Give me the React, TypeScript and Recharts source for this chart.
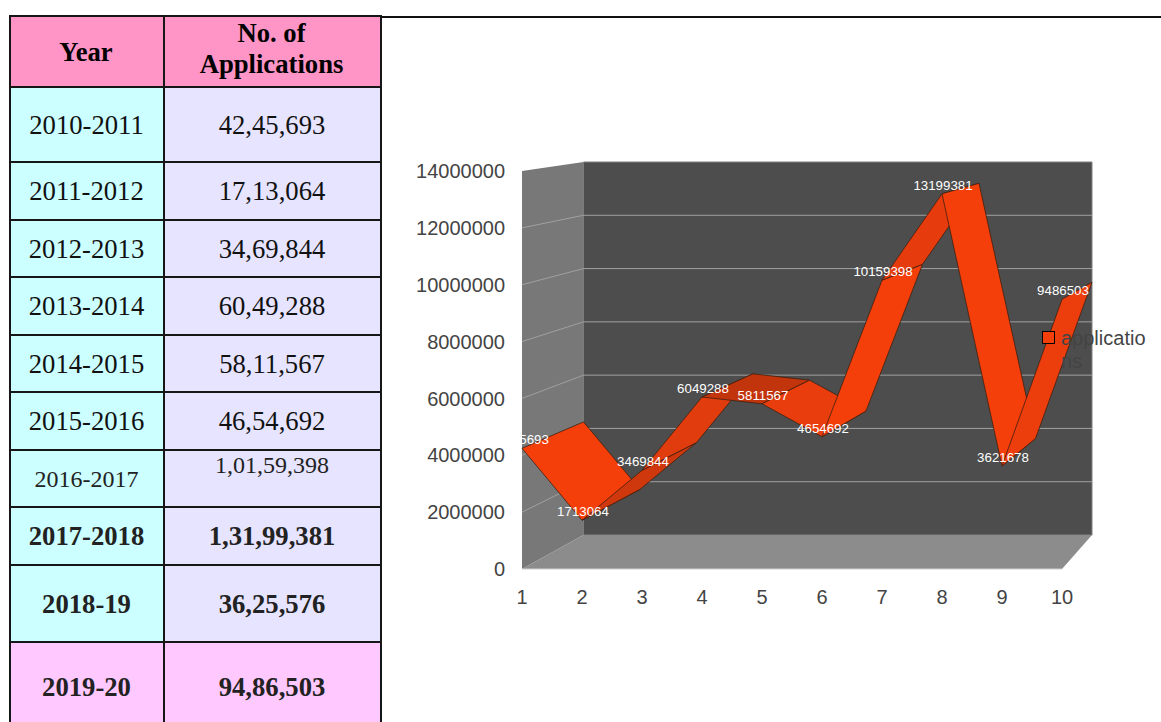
import {
  LineChart,
  Line,
  XAxis,
  YAxis,
  Legend,
  LabelList,
  useXAxisScale,
  useYAxisScale,
} from "recharts";

const tableYears = [
  "2010-2011",
  "2011-2012",
  "2012-2013",
  "2013-2014",
  "2014-2015",
  "2015-2016",
  "2016-2017",
  "2017-2018",
  "2018-19",
  "2019-20",
];
const tableCounts = [
  "42,45,693",
  "17,13,064",
  "34,69,844",
  "60,49,288",
  "58,11,567",
  "46,54,692",
  "1,01,59,398",
  "1,31,99,381",
  "36,25,576",
  "94,86,503",
];
const boldRows = [7, 8, 9];
const rowHeights = [75, 58, 57, 58, 57, 58, 57, 58, 77, 90];

const categories = [1, 2, 3, 4, 5, 6, 7, 8, 9, 10];
const applications = [
  4245693, 1713064, 3469844, 6049288, 5811567, 4654692, 10159398, 13199381,
  3621678, 9486503,
];
const yTicks = [0, 2000000, 4000000, 6000000, 8000000, 10000000, 12000000, 14000000];

// lit faces of the ribbon, one per segment
const segmentShades = [
  "#f43f0b",
  "#cf370c",
  "#e03c0d",
  "#c2340b",
  "#ea3d0d",
  "#f43f0b",
  "#e63c0d",
  "#f43f0b",
  "#ec3d0d",
];

const ribbonRows = categories.map((x, i) => ({ x, y: applications[i] }));

// The 3D look is two sets of axes: one for the front plane, one for the back wall.
function Scene3D() {
  const fx = useXAxisScale("front");
  const fy = useYAxisScale("front");
  const bx = useXAxisScale("back");
  const by = useYAxisScale("back");
  if (!fx || !fy || !bx || !by) return null;

  const f = (x: number, y: number) => `${fx(x)},${fy(y)}`;
  const b = (x: number, y: number) => `${bx(x)},${by(y)}`;
  const x0 = categories[0];
  const x1 = categories[9];
  const top = yTicks[7];

  return (
    <g>
      <polygon
        points={[b(x0, 0), b(x1, 0), b(x1, top), b(x0, top)].join(" ")}
        fill="#4d4d4d"
        stroke="#808080"
        strokeWidth={1}
      />
      <polygon
        points={[f(x0, 0), f(x0, top), b(x0, top), b(x0, 0)].join(" ")}
        fill="#787878"
      />
      <polygon
        points={[f(x0, 0), f(x1, 0), b(x1, 0), b(x0, 0)].join(" ")}
        fill="#8c8c8c"
      />
      <polyline points={[f(x0, 0), f(x1, 0)].join(" ")} stroke="#d0d0d0" strokeWidth={1} />
      {yTicks
        .filter((t) => t > 0 && t < top)
        .map((t) => (
          <polyline
            key={t}
            points={[f(x0, t), b(x0, t), b(x1, t)].join(" ")}
            fill="none"
            stroke="#a0a0a0"
            strokeWidth={1}
          />
        ))}
      {ribbonRows.slice(0, -1).map((r, i) => {
        const next = ribbonRows[i + 1];
        return (
          <polygon
            key={r.x}
            points={[f(r.x, r.y), f(next.x, next.y), b(next.x, next.y), b(r.x, r.y)].join(" ")}
            fill={segmentShades[i]}
            stroke="#40200f"
            strokeWidth={0.8}
            strokeLinejoin="round"
          />
        );
      })}
    </g>
  );
}

const LegendBox = () => (
  <div
    style={{
      display: "flex",
      alignItems: "flex-start",
      fontFamily: "'Liberation Sans', sans-serif",
      fontSize: 20,
      lineHeight: "23px",
      color: "#444",
    }}
  >
    <div
      style={{
        width: 11,
        height: 11,
        marginTop: 4,
        marginRight: 6,
        background: "#f43f0b",
        border: "1px solid #000",
        flex: "none",
      }}
    />
    <div style={{ width: 88, wordBreak: "break-all", textAlign: "left" }}>applications</div>
  </div>
);

const cellBorder = "2px solid #161616";
const headStyle = {
  background: "#ff95c6",
  border: cellBorder,
  fontWeight: 700,
  color: "#000",
  textAlign: "center" as const,
  padding: "0 2px 0 0",
  lineHeight: "31px",
};

const axisTick = { fill: "#444", fontSize: 20, fontFamily: "'Liberation Sans', sans-serif" };

export default function App() {
  return (
    <div
      style={{
        position: "absolute",
        left: 0,
        top: 0,
        width: 1161,
        height: 722,
        overflow: "hidden",
        background: "#fff",
      }}
    >
      <table
        style={{
          position: "absolute",
          left: 9,
          top: 15,
          width: 372,
          borderCollapse: "collapse",
          tableLayout: "fixed",
          fontFamily: "'Liberation Serif', serif",
          fontSize: 26.67,
        }}
      >
        <colgroup>
          <col style={{ width: 154 }} />
          <col style={{ width: 217 }} />
        </colgroup>
        <thead>
          <tr style={{ height: 71 }}>
            <th style={{ ...headStyle, paddingTop: 2 }}>Year</th>
            <th style={{ ...headStyle, paddingBottom: 6 }}>
              No. of
              <br />
              Applications
            </th>
          </tr>
        </thead>
        <tbody>
          {tableYears.map((year, i) => {
            const bold = boldRows.includes(i);
            const oddRow = i === 6;
            const last = i === 9;
            return (
              <tr key={year} style={{ height: rowHeights[i] }}>
                <td
                  style={{
                    background: last ? "#ffc8ff" : "#ccffff",
                    border: cellBorder,
                    textAlign: "center",
                    padding: "1px 1px 0 0",
                    fontWeight: bold ? 700 : 400,
                    fontSize: oddRow ? 24 : 26.67,
                    color: i >= 6 ? "#222" : "#111",
                  }}
                >
                  {year}
                </td>
                <td
                  style={{
                    background: last ? "#ffc8ff" : "#e6e4ff",
                    border: cellBorder,
                    textAlign: "center",
                    verticalAlign: oddRow ? "top" : "middle",
                    padding: "1px 1px 0 0",
                    fontWeight: bold ? 700 : 400,
                    fontSize: oddRow ? 24 : 26.67,
                    lineHeight: oddRow ? "27px" : undefined,
                    color: i >= 6 ? "#222" : "#111",
                  }}
                >
                  {tableCounts[i]}
                </td>
              </tr>
            );
          })}
        </tbody>
      </table>
      <div
        style={{
          position: "absolute",
          left: 380,
          top: 15.5,
          width: 781,
          height: 2,
          background: "#111",
        }}
      />
      <div style={{ position: "absolute", left: 380, top: 130 }}>
        <LineChart
          width={781}
          height={500}
          margin={{ top: 32, right: 69, bottom: 21, left: 32 }}
        >
          <XAxis
            xAxisId="front"
            type="number"
            dataKey="x"
            domain={[1, 10]}
            ticks={categories}
            interval={0}
            padding={{ left: 0, right: 30 }}
            height={40}
            axisLine={false}
            tickLine={false}
            tickSize={0}
            tickMargin={21}
            tick={axisTick}
          />
          <XAxis
            xAxisId="back"
            type="number"
            dataKey="x"
            domain={[1, 10]}
            padding={{ left: 61.5, right: 0 }}
            height={0}
            hide
          />
          <YAxis
            yAxisId="front"
            type="number"
            domain={[0, 14000000]}
            ticks={yTicks}
            interval={0}
            padding={{ top: 9, bottom: 0 }}
            width={110}
            axisLine={false}
            tickLine={false}
            tickSize={0}
            tickMargin={17}
            tick={axisTick}
          />
          <YAxis
            yAxisId="back"
            type="number"
            domain={[0, 14000000]}
            padding={{ top: 0, bottom: 34 }}
            width={0}
            hide
          />
          <Legend
            layout="horizontal"
            verticalAlign="middle"
            content={<LegendBox />}
            wrapperStyle={{ left: 662, top: 197, width: 110 }}
          />
          <Scene3D />
          <Line
            data={ribbonRows}
            xAxisId="back"
            yAxisId="back"
            dataKey="y"
            stroke="none"
            dot={false}
            activeDot={false}
            legendType="none"
            isAnimationActive={false}
          />
          <Line
            data={ribbonRows}
            xAxisId="front"
            yAxisId="front"
            dataKey="y"
            name="applications"
            stroke="none"
            dot={false}
            activeDot={false}
            isAnimationActive={false}
          >
            <LabelList
              dataKey="y"
              position="top"
              offset={4}
              dx={1}
              fill="#ffffff"
              fontSize={13.3}
              fontFamily="'Liberation Sans', sans-serif"
            />
          </Line>
        </LineChart>
      </div>
    </div>
  );
}
